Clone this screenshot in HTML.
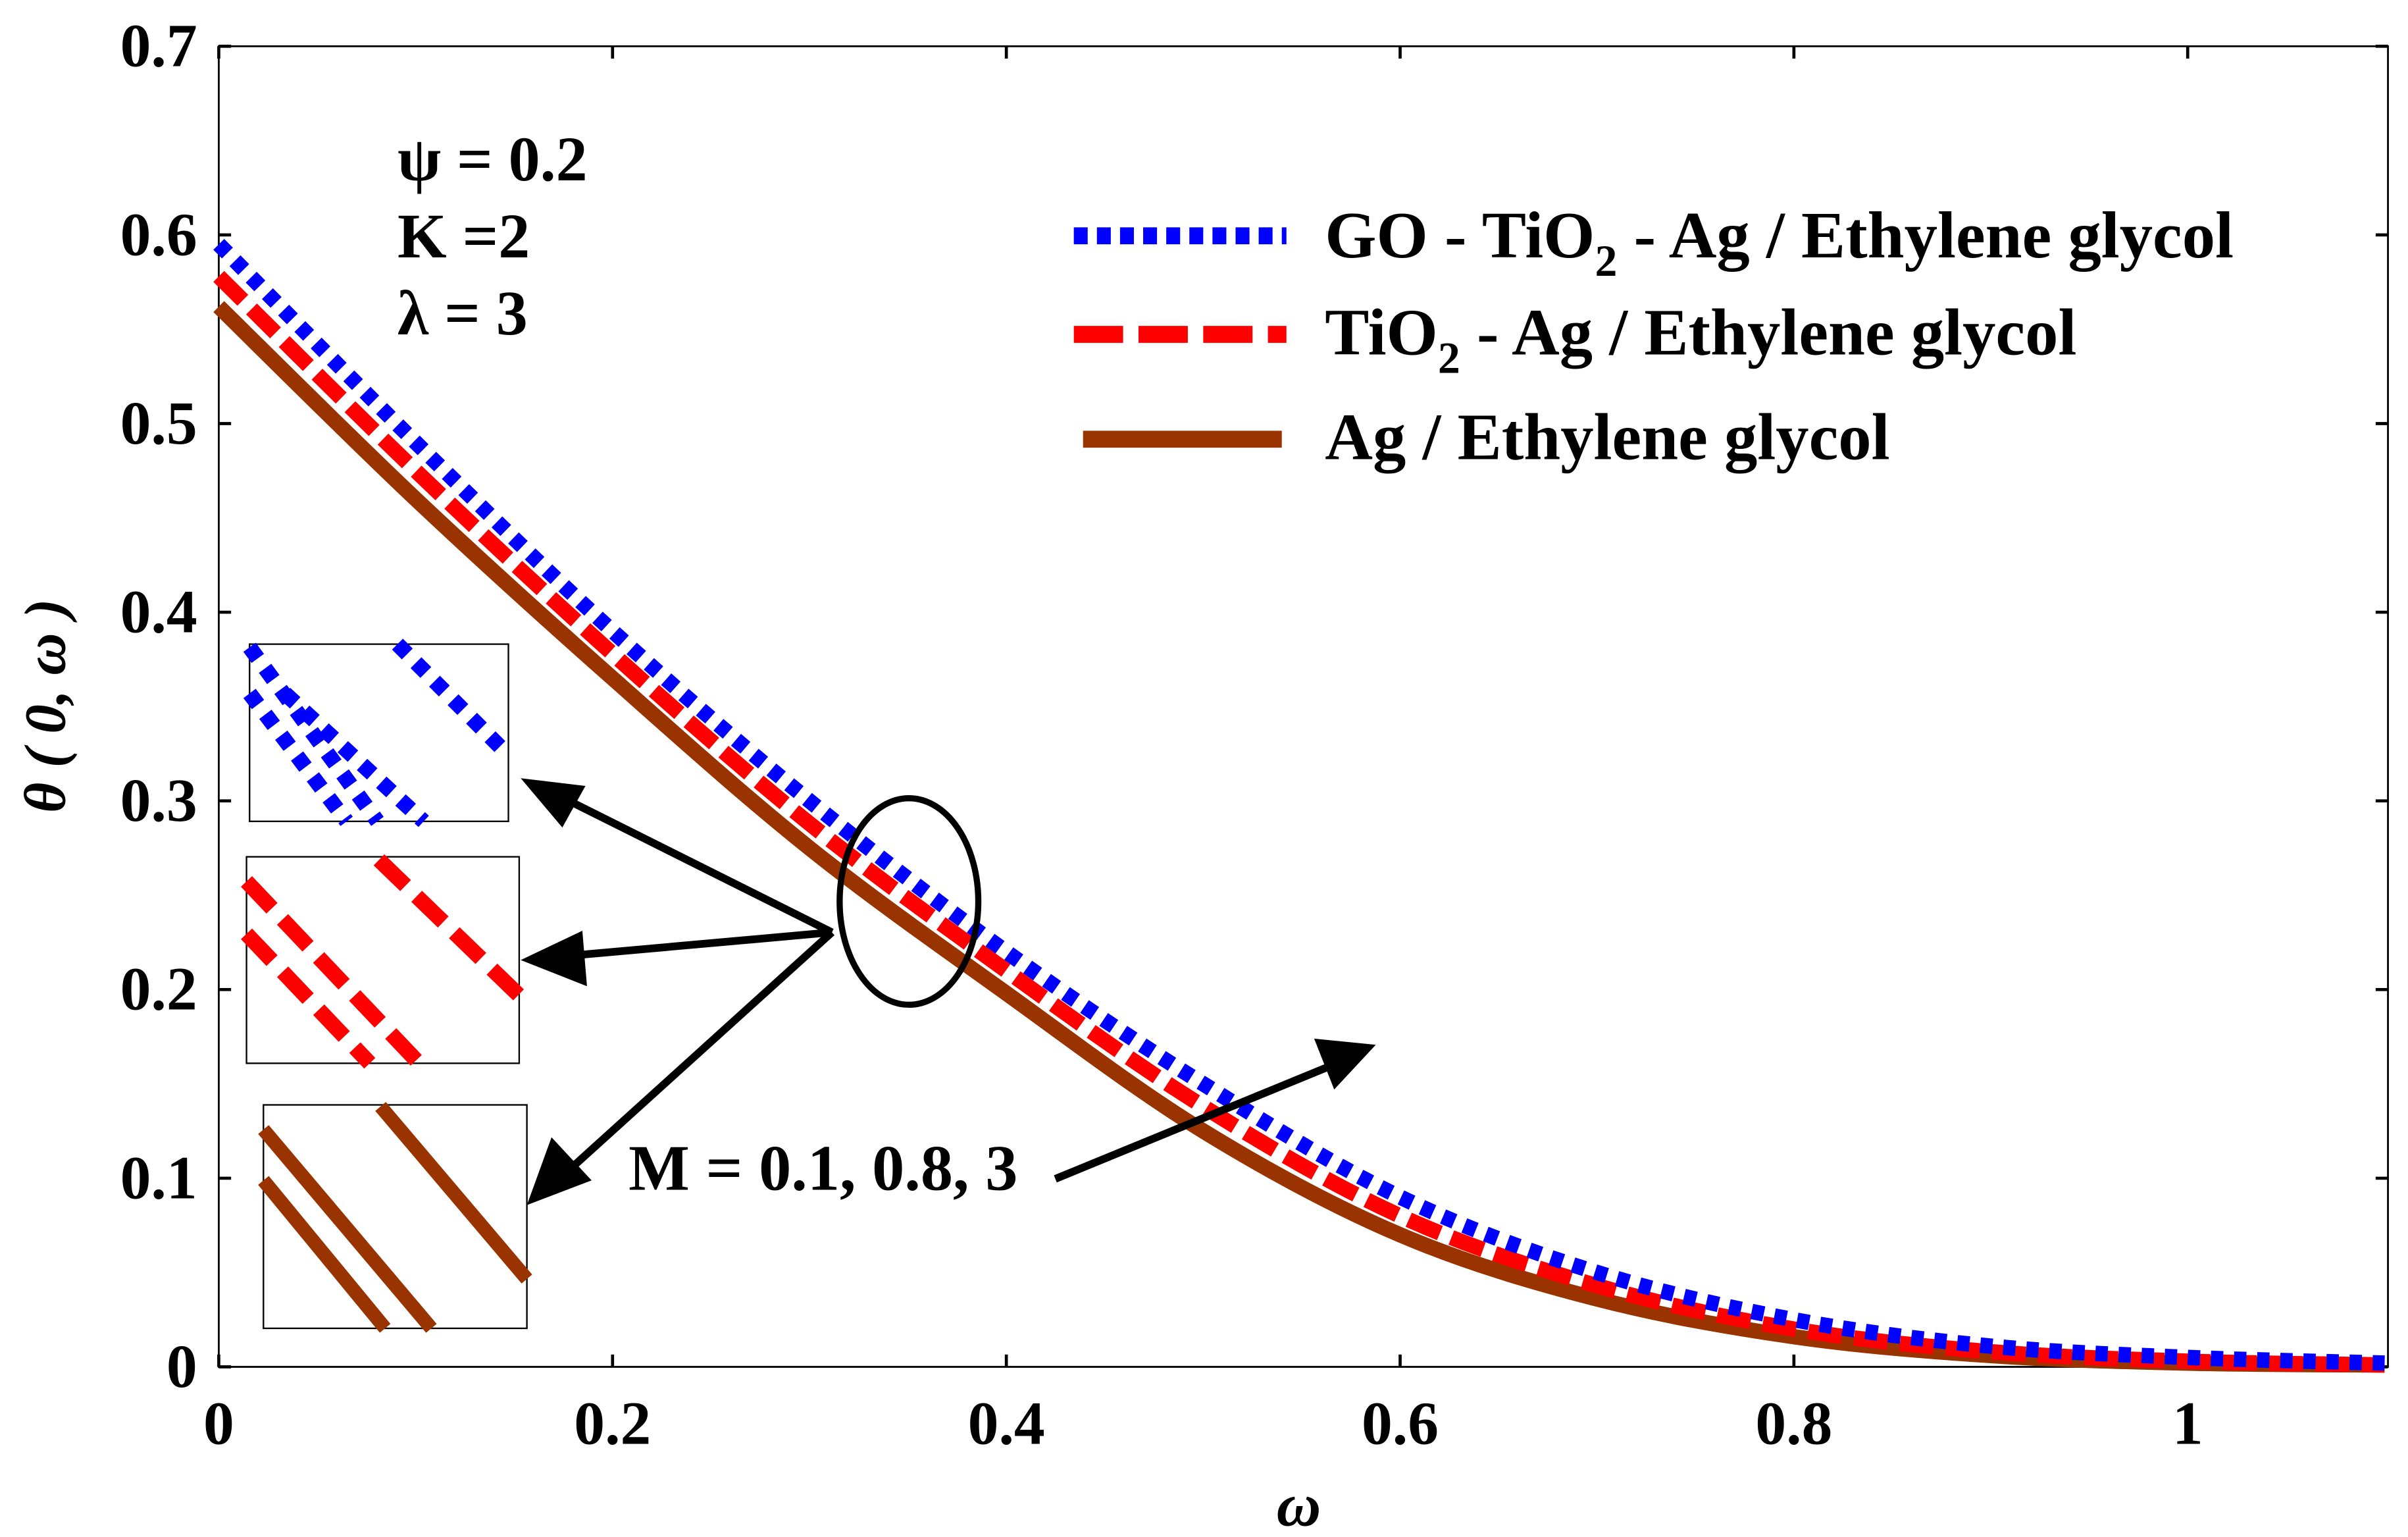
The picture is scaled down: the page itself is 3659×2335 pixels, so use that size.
<!DOCTYPE html>
<html><head><meta charset="utf-8"><style>
html,body{margin:0;padding:0;background:#fff}
svg{display:block}
text{font-family:"Liberation Serif",serif;font-weight:bold;fill:#000}
</style></head><body>
<svg id="chart" width="3659" height="2335" viewBox="0 0 1563 997.4" xmlns="http://www.w3.org/2000/svg">
<rect x="0" y="0" width="1563" height="997.4" fill="#fff"/>
<g id="axes"></g>
<g id="series"></g>
<g>
<text x="258" y="117" style="font-size:41px">ψ = 0.2</text>
<text x="258" y="167" style="font-size:41px">K =2</text>
<text x="258" y="217" style="font-size:41px">λ = 3</text>
</g>
<g>
<line x1="697" y1="153" x2="835" y2="153" stroke="#0000ff" stroke-width="11" stroke-dasharray="9,6"/>
<text x="860" y="167" style="font-size:43px">GO - TiO<tspan dy="12" font-size="29">2</tspan><tspan dy="-12"> - Ag / Ethylene glycol</tspan></text>
<line x1="697" y1="217" x2="835" y2="217" stroke="#ff0000" stroke-width="11" stroke-dasharray="32,10"/>
<text x="860" y="230" style="font-size:43px">TiO<tspan dy="12" font-size="29">2</tspan><tspan dy="-12"> - Ag / Ethylene glycol</tspan></text>
<line x1="703" y1="285" x2="832" y2="285" stroke="#993300" stroke-width="11"/>
<text x="860" y="298" style="font-size:43px">Ag / Ethylene glycol</text>
</g>
<g>
<rect x="162" y="418" width="168" height="115" fill="#fff" stroke="#000" stroke-width="1"/>
<g stroke="#0000ff" stroke-width="10" stroke-dasharray="9,8">
<line x1="162" y1="420" x2="245" y2="533"/><line x1="162" y1="450" x2="225" y2="533"/><line x1="258" y1="418" x2="330" y2="490"/><line x1="185" y1="450" x2="275" y2="533"/>
</g>
<rect x="160" y="556" width="177" height="134" fill="#fff" stroke="#000" stroke-width="1"/>
<g stroke="#ff0000" stroke-width="10" stroke-dasharray="24,10">
<line x1="160" y1="572" x2="272" y2="690"/><line x1="160" y1="606" x2="240" y2="690"/><line x1="246" y1="558" x2="337" y2="646"/>
</g>
<rect x="171" y="717" width="171" height="145" fill="#fff" stroke="#000" stroke-width="1"/>
<g stroke="#993300" stroke-width="9">
<line x1="171" y1="733" x2="280" y2="862"/><line x1="171" y1="766" x2="250" y2="862"/><line x1="247" y1="718" x2="342" y2="830"/>
</g>
</g>
<g stroke="#000" stroke-width="5" fill="none">
<ellipse cx="590" cy="585" rx="45" ry="67" stroke-width="4"/>
<line x1="540" y1="605" x2="350" y2="510"/>
<line x1="540" y1="605" x2="350" y2="622"/>
<line x1="540" y1="605" x2="352" y2="775"/>
<line x1="685" y1="765" x2="880" y2="685"/>
</g>
<g fill="#000">
<polygon points="338,505 380,510 365,537"/>
<polygon points="338,623 378,604 381,640"/>
<polygon points="342,782 358,738 384,766"/>
<polygon points="893,678 853,674 866,707"/>
</g>
<text x="408" y="772" style="font-size:42px">M = 0.1, 0.8, 3</text>
<text x="843" y="990" style="font-size:40px;font-style:italic" text-anchor="middle">ω</text>
<text transform="translate(42,458) rotate(-90)" style="font-size:38px;font-style:italic" text-anchor="middle">θ ( 0, ω )</text>
</svg>
<script>
const xTicks=[0,0.2,0.4,0.6,0.8,1];
const xTickLabels=["0","0.2","0.4","0.6","0.8","1"];
const yTicks=[0,0.1,0.2,0.3,0.4,0.5,0.6,0.7];
const yTickLabels=["0","0.1","0.2","0.3","0.4","0.5","0.6","0.7"];
const omega=[0,0.1,0.2,0.3,0.4,0.5,0.6,0.7,0.8,0.9,1.0,1.1];
const thetaGO=[0.595,0.49,0.39,0.3,0.22,0.15,0.09,0.05,0.025,0.011,0.005,0.002];
const thetaTiO2=[0.578,0.475,0.378,0.288,0.21,0.138,0.08,0.043,0.02,0.008,0.003,0.001];
const thetaAg=[0.562,0.46,0.365,0.275,0.198,0.125,0.07,0.036,0.016,0.006,0.002,0.001];
const L=142,R=1550,T=30,B=887;
function sx(v){return L+v*(1420-142);}
function sy(v){return B-v*(B-T)/0.7;}
const NS="http://www.w3.org/2000/svg";
const ax=document.getElementById('axes');
function mk(tag,attrs,parent){const e=document.createElementNS(NS,tag);for(const k in attrs)e.setAttribute(k,attrs[k]);parent.appendChild(e);return e;}
const frame=mk('rect',{x:L,y:T,width:R-L,height:B-T,fill:'none',stroke:'#000','stroke-width':1.2},ax);


xTicks.forEach((v,i)=>{
  const x=sx(v);
  mk('line',{x1:x,y1:B,x2:x,y2:B-8,stroke:'#000','stroke-width':2},ax);
  mk('line',{x1:x,y1:T,x2:x,y2:T+8,stroke:'#000','stroke-width':2},ax);
  const t=mk('text',{x:x,y:937,'text-anchor':'middle',style:'font-size:40px'},ax);
  t.textContent=xTickLabels[i];
  
  
});
yTicks.forEach((v,i)=>{
  const y=sy(v);
  mk('line',{x1:L,y1:y,x2:L+8,y2:y,stroke:'#000','stroke-width':2},ax);
  mk('line',{x1:R,y1:y,x2:R-8,y2:y,stroke:'#000','stroke-width':2},ax);
  const t=mk('text',{x:128,y:y+13,'text-anchor':'end',style:'font-size:40px'},ax);
  t.textContent=yTickLabels[i];
  
  
});
function pathFor(ys){
  const p=omega.map((x,i)=>[sx(x),sy(ys[i])]);
  let d='M'+p[0][0]+','+p[0][1];
  for(let i=0;i<p.length-1;i++){
    const p0=p[Math.max(i-1,0)],p1=p[i],p2=p[i+1],p3=p[Math.min(i+2,p.length-1)];
    const c1=[p1[0]+(p2[0]-p0[0])/6,p1[1]+(p2[1]-p0[1])/6];
    const c2=[p2[0]-(p3[0]-p1[0])/6,p2[1]-(p3[1]-p1[1])/6];
    d+=' C'+c1+' '+c2+' '+p2;
  }
  return d;
}
const sg=document.getElementById('series');
const agPath=mk('path',{d:pathFor(thetaAg),fill:'none',stroke:'#993300','stroke-width':10},sg);


const trPath=mk('path',{d:pathFor(thetaTiO2),fill:'none',stroke:'#ff0000','stroke-width':10,'stroke-dasharray':'22,8'},sg);


const goPath=mk('path',{d:pathFor(thetaGO),fill:'none',stroke:'#0000ff','stroke-width':10,'stroke-dasharray':'8,7'},sg);


</script>
</body></html>
